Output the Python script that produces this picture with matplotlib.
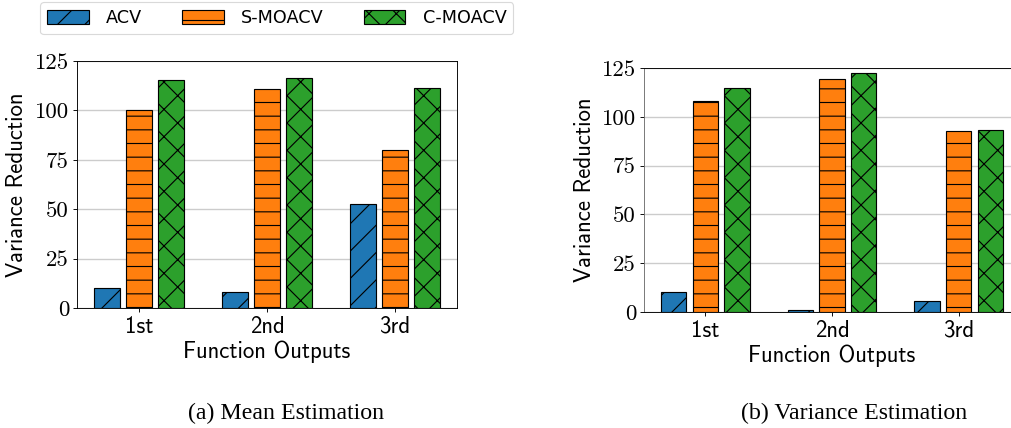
import numpy as np
import matplotlib
matplotlib.use("Agg")
from matplotlib import pyplot as plt

# data
outputs = ["1st", "2nd", "3rd"]
methods = ["ACV", "S-MOACV", "C-MOACV"]
mean_acv = [10.3, 8.3, 52.6]
mean_smoacv = [100.0, 110.8, 79.8]
mean_cmoacv = [115.3, 116.4, 111.5]
var_acv = [10.1, 0.9, 5.8]
var_smoacv = [107.9, 119.4, 92.9]
var_cmoacv = [114.8, 122.4, 93.4]
yticks = [0, 25, 50, 75, 100, 125]

colors = ["#1f77b4", "#ff7f0e", "#2ca02c"]
hatches = ["/", "-", "x"]

DPI = 82
W, H = 1011, 428


def draw(ax, series, ylab_x):
    x = np.arange(len(outputs))
    bars = []
    for i, vals in enumerate(series):
        b = ax.bar(x + (i - 1) * 0.25, vals, 0.2, color=colors[i],
                   edgecolor="black", linewidth=1.0, hatch=hatches[i],
                   label=methods[i], zorder=3)
        bars.append(b)
    ax.set_xticks(x)
    ax.set_xticklabels(outputs, family="cmss10", fontsize=20)
    ax.set_yticks(yticks)
    ax.set_yticklabels([str(t) for t in yticks], family="cmr10", fontsize=20)
    ax.set_ylim(0, 125)
    ax.grid(axis="y", color="#cccccc", linewidth=1.2, zorder=0)
    ax.set_axisbelow(True)
    ax.set_xlabel("Function Outputs", family="cmss10", fontsize=20, labelpad=2)
    ax.set_ylabel("Variance Reduction", family="cmss10", fontsize=20)
    # label x is the right edge of the rotated text
    ax.yaxis.set_label_coords(ylab_x, 0.5)
    return bars


def main():
    plt.rcParams["hatch.linewidth"] = 1.0
    fig = plt.figure(figsize=(W / DPI, H / DPI), dpi=DPI)

    ax1 = fig.add_axes([77 / W, 1 - 308 / H, 380 / W, 247 / H])
    ax2 = fig.add_axes([644 / W, 1 - 312 / H, 376 / W, 244 / H])

    bars = draw(ax1, [mean_acv, mean_smoacv, mean_cmoacv], (28 - 77) / 380)
    draw(ax2, [var_acv, var_smoacv, var_cmoacv], (596 - 644) / 376)
    ax2.spines["left"].set_color("#707070")

    fig.legend(bars, methods, loc="upper left", ncol=3,
               bbox_to_anchor=(40 / W, 1 - 2 / H), borderaxespad=0,
               prop={"family": "DejaVu Sans", "size": 15.5},
               handlelength=2.35, handleheight=0.9, handletextpad=1.0,
               columnspacing=2.25, frameon=True, edgecolor="#d0d0d0",
               fancybox=True)

    fig.text(286 / W, 1 - 413 / H, "(a) Mean Estimation", family="Liberation Serif",
             fontsize=21, ha="center", va="center")
    fig.text(854 / W, 1 - 413 / H, "(b) Variance Estimation", family="Liberation Serif",
             fontsize=21, ha="center", va="center")

    fig.savefig("out.png", dpi=DPI)


if __name__ == "__main__":
    main()
